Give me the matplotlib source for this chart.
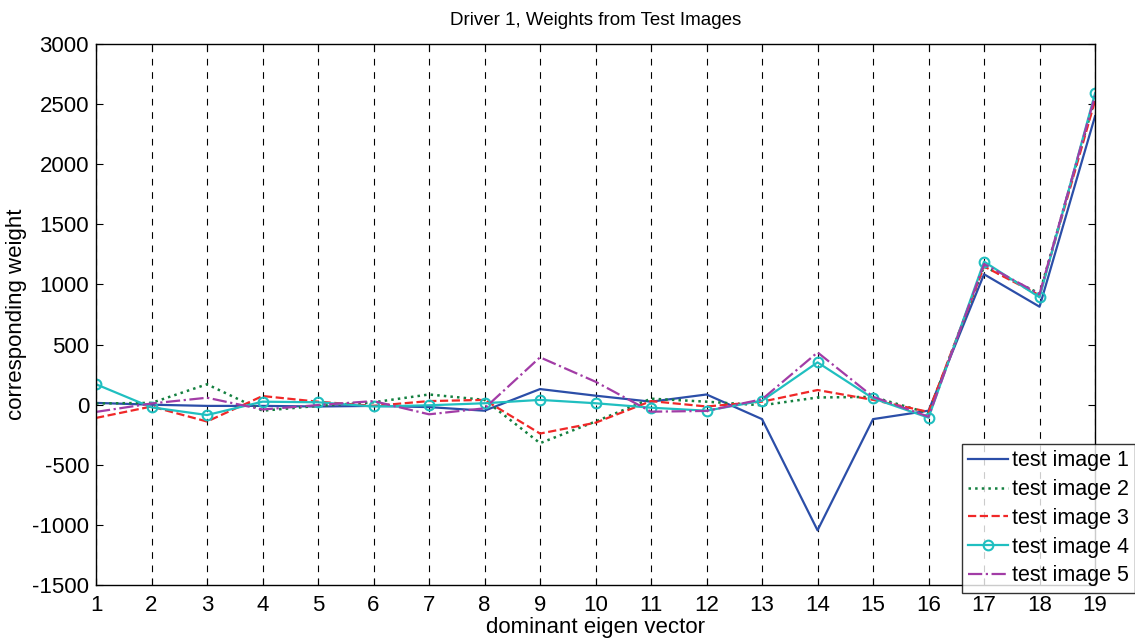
import matplotlib
matplotlib.use("Agg")
import matplotlib.pyplot as plt
import numpy as np

# dominant eigen vector index
eigen_idx = list(range(1, 20))

# weights per test image
test_image_1 = [15, 0, -10, -10, -15, -10, -20, -50, 130, 75, 25, 85, -120, -1045, -120, -50, 1085, 815, 2400]
test_image_2 = [10, 15, 170, -50, -10, 20, 85, 40, -320, -140, 50, 25, -5, 60, 65, -70, 1150, 925, 2550]
test_image_3 = [-110, -15, -140, 72, 25, -10, 30, 40, -240, -150, 30, -15, 25, 122, 40, -60, 1150, 910, 2530]
test_image_4 = [170, -22, -86, 25, 20, -15, -5, 12, 40, 12, -25, -50, 33, 352, 53, -108, 1190, 893, 2590]
test_image_5 = [-60, 10, 58, -40, -3, 30, -80, -30, 394, 191, -58, -52, 45, 435, 66, -100, 1170, 920, 2570]

series_labels = ["test image 1", "test image 2", "test image 3", "test image 4", "test image 5"]

plt.rcParams["font.family"] = ["Liberation Sans", "DejaVu Sans"]
plt.rcParams["axes.unicode_minus"] = False

fig = plt.figure(figsize=(11.35, 6.4), dpi=100)
ax = fig.add_axes([0.0846, 0.0859, 0.8802, 0.8453])

ax.plot(eigen_idx, test_image_1, color="#2b4ea8", linestyle="-", linewidth=1.6, label=series_labels[0])
ax.plot(eigen_idx, test_image_2, color="#148040", linestyle=":", linewidth=1.8, label=series_labels[1])
ax.plot(eigen_idx, test_image_3, color="#f02828", linestyle="--", linewidth=1.6, label=series_labels[2])
ax.plot(eigen_idx, test_image_4, color="#20bfc0", linestyle="-", linewidth=1.6,
        marker="o", markersize=7, markerfacecolor="none", markeredgewidth=1.5, label=series_labels[3])
ax.plot(eigen_idx, test_image_5, color="#a23ca6", linestyle="-.", linewidth=1.6, label=series_labels[4])

ax.set_xlim(1, 19)
ax.set_ylim(-1500, 3000)
ax.set_xticks(eigen_idx)
ax.set_yticks(np.arange(-1500, 3001, 500))
ax.tick_params(direction="in", top=True, right=True, labelsize=16, length=5, width=0.8)
ax.tick_params(axis="x", pad=7)
ax.tick_params(axis="y", pad=5)
ax.xaxis.grid(True, color="black", linestyle=(0, (6, 6)), linewidth=0.8)
for sp in ax.spines.values():
    sp.set_linewidth(1.0)

ax.set_title("Driver 1, Weights from Test Images", fontsize=13.5, pad=14)
ax.set_xlabel("dominant eigen vector", fontsize=16, labelpad=1)
ax.set_ylabel("corresponding weight", fontsize=16, labelpad=4)

leg = ax.legend(loc="upper left", bbox_to_anchor=(0.8476, 0.3063), bbox_transform=fig.transFigure,
                fontsize=15.5, frameon=True, fancybox=False, edgecolor="black",
                borderpad=0.3, labelspacing=0.36, handlelength=1.85, handletextpad=0.15, borderaxespad=0)
leg.get_frame().set_linewidth(1.0)

fig.savefig("out.png", dpi=100)
